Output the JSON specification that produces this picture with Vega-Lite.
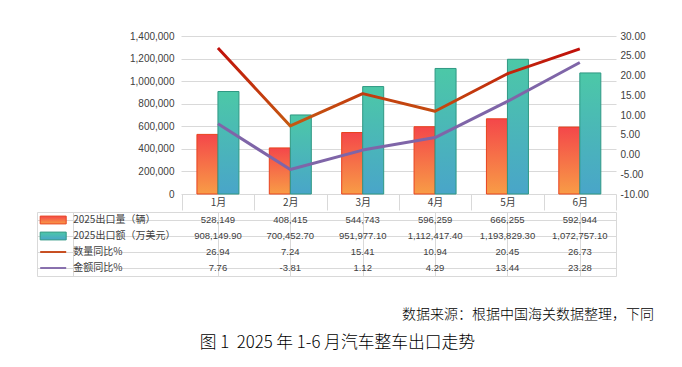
{
  "$schema": "https://vega.github.io/schema/vega-lite/v6.json",
  "background": "white",
  "padding": {"left": 36, "top": 31, "right": 5, "bottom": 5},
  "datasets": {
    "months": [
      {"month": "1月", "qty": 528149, "amt": 908149.90, "qtyPct": 26.94, "amtPct": 7.76},
      {"month": "2月", "qty": 408415, "amt": 700452.70, "qtyPct": 7.24, "amtPct": -3.81},
      {"month": "3月", "qty": 544743, "amt": 951977.10, "qtyPct": 15.41, "amtPct": 1.12},
      {"month": "4月", "qty": 596259, "amt": 1112417.40, "qtyPct": 10.94, "amtPct": 4.29},
      {"month": "5月", "qty": 666255, "amt": 1193829.30, "qtyPct": 20.45, "amtPct": 13.44},
      {"month": "6月", "qty": 592944, "amt": 1072757.10, "qtyPct": 26.73, "amtPct": 23.28}
    ],
    "legendRows": [
      {"row": "qty", "label": "2025出口量（辆）"},
      {"row": "amt", "label": "2025出口额（万美元）"},
      {"row": "qtyPct", "label": "数量同比%"},
      {"row": "amtPct", "label": "金额同比%"}
    ]
  },
  "spacing": 0,
  "resolve": {"scale": {"x": "independent", "y": "independent"}},
  "title": {
    "text": "图 1\u00a0\u00a02025 年 1-6 月汽车整车出口走势",
    "orient": "bottom",
    "anchor": "middle",
    "offset": 12,
    "dx": -8,
    "font": "Noto Sans CJK SC",
    "fontSize": 16.8,
    "fontWeight": 300,
    "color": "#000000"
  },
  "vconcat": [
    {
      "width": 579,
      "height": 158,
      "data": {"name": "months"},
      "encoding": {
        "x": {
          "field": "month",
          "type": "nominal",
          "scale": {"domain": ["L1", "L2", "1月", "2月", "3月", "4月", "5月", "6月"], "paddingInner": 0, "paddingOuter": 0},
          "axis": {
            "title": null,
            "values": ["1月", "2月", "3月", "4月", "5月", "6月"],
            "labelAngle": 0,
            "tickBand": "extent",
            "tickSize": 16,
            "tickColor": "#d9d9d9",
            "domain": false,
            "labelPadding": -13,
            "labelFont": "Noto Sans CJK SC",
            "labelFontSize": 10,
            "labelColor": "#404040"
          }
        }
      },
      "layer": [
        {
          "transform": [{"fold": ["qty", "amt"], "as": ["series", "val"]}],
          "encoding": {
            "xOffset": {"field": "series", "type": "nominal", "scale": {"domain": ["qty", "amt"], "paddingInner": 0, "paddingOuter": 0.723}},
            "y": {
              "field": "val",
              "type": "quantitative",
              "scale": {"domain": [0, 1400000], "nice": false},
              "axis": {
                "title": null,
                "orient": "left",
                "offset": -579,
                "values": [0, 200000, 400000, 600000, 800000, 1000000, 1200000, 1400000],
                "format": ",.0f",
                "labelOverlap": false,
                "domain": false,
                "grid": false,
                "ticks": true,
                "tickSize": 435,
                "tickColor": "#d9d9d9",
                "tickWidth": 1,
                "labelPadding": 7,
                "minExtent": 0,
                "labelFont": "Liberation Sans",
                "labelFontSize": 10,
                "labelColor": "#404040"
              }
            }
          },
          "layer": [
            {
              "transform": [{"filter": "datum.series === 'qty'"}],
              "mark": {
                "type": "bar",
                "stroke": "#e8421e",
                "strokeWidth": 1,
                "fill": {"gradient": "linear", "x1": 0, "y1": 0, "x2": 0, "y2": 1,
                  "stops": [{"offset": 0, "color": "#f4474a"}, {"offset": 1, "color": "#f89c46"}]}
              }
            },
            {
              "transform": [{"filter": "datum.series === 'amt'"}],
              "mark": {
                "type": "bar",
                "stroke": "#2f9883",
                "strokeWidth": 1,
                "fill": {"gradient": "linear", "x1": 0, "y1": 0, "x2": 0, "y2": 1,
                  "stops": [{"offset": 0, "color": "#4cc8a7"}, {"offset": 1, "color": "#49a5c9"}]}
              }
            }
          ]
        },
        {
          "encoding": {
            "y": {
              "type": "quantitative",
              "scale": {"domain": [-10, 30], "nice": false},
              "axis": {
                "orient": "right",
                "title": null,
                "values": [-10, -5, 0, 5, 10, 15, 20, 25, 30],
                "labelExpr": "replace(format(datum.value, '.2f'), '\u2212', '-')",
                "labelOverlap": false,
                "domain": false,
                "ticks": false,
                "grid": false,
                "labelPadding": 4,
                "labelFont": "Liberation Sans",
                "labelFontSize": 10,
                "labelColor": "#404040"
              }
            }
          },
          "layer": [
            {
              "mark": {
                "type": "line",
                "strokeWidth": 3,
                "strokeJoin": "round",
                "stroke": {"gradient": "linear", "x1": 0, "y1": 0, "x2": 0, "y2": 1,
                  "stops": [{"offset": 0, "color": "#c00f0a"}, {"offset": 1, "color": "#c55a11"}]}
              },
              "encoding": {"y": {"field": "qtyPct", "type": "quantitative"}}
            },
            {
              "mark": {"type": "line", "strokeWidth": 3, "strokeJoin": "round", "stroke": "#7f65a8"},
              "encoding": {"y": {"field": "amtPct", "type": "quantitative"}}
            }
          ]
        }
      ],
      "resolve": {"scale": {"y": "independent"}}
    },
    {
      "width": 579,
      "height": 64,
      "view": {"stroke": "#d9d9d9"},
      "title": {
        "text": "数据来源：根据中国海关数据整理，下同",
        "orient": "bottom",
        "anchor": "end",
        "offset": 32,
        "dx": 38,
        "font": "Noto Sans CJK SC",
        "fontSize": 14,
        "fontWeight": 300,
        "color": "#000000"
      },
      "layer": [
        {
          "data": {"name": "legendRows"},
          "mark": {"type": "text", "align": "left", "baseline": "middle", "font": "Noto Sans CJK SC", "fontSize": 10, "color": "#404040"},
          "encoding": {
            "x": {
              "datum": "L1",
              "type": "nominal",
              "scale": {"domain": ["L1", "L2", "1月", "2月", "3月", "4月", "5月", "6月"], "paddingInner": 0, "paddingOuter": 0},
              "axis": {
                "values": ["L1", "1月", "2月", "3月", "4月", "5月", "6月"],
                "bandPosition": 0,
                "grid": true,
                "gridColor": "#d9d9d9",
                "labels": false,
                "ticks": false,
                "domain": false,
                "title": null,
                "minExtent": 0
              }
            },
            "y": {
              "field": "row",
              "type": "nominal",
              "scale": {"domain": ["qty", "amt", "qtyPct", "amtPct"], "paddingInner": 0, "paddingOuter": 0},
              "axis": {
                "bandPosition": 0,
                "grid": true,
                "gridColor": "#d9d9d9",
                "labels": false,
                "ticks": false,
                "domain": false,
                "title": null,
                "minExtent": 0
              }
            },
            "text": {"field": "label", "type": "nominal"}
          }
        },
        {
          "data": {"name": "legendRows"},
          "transform": [{"filter": "datum.row === 'qty'"}],
          "mark": {
            "type": "point", "filled": true, "opacity": 1, "size": 676, "xOffset": -20,
            "shape": "M-1,-0.3H1V0.3H-1Z",
            "stroke": "#e8421e", "strokeWidth": 1,
            "fill": {"gradient": "linear", "x1": 0, "y1": 0, "x2": 0, "y2": 1,
              "stops": [{"offset": 0, "color": "#f4474a"}, {"offset": 1, "color": "#f89c46"}]}
          },
          "encoding": {
            "x": {"datum": "L1", "type": "nominal"},
            "y": {"field": "row", "type": "nominal"}
          }
        },
        {
          "data": {"name": "legendRows"},
          "transform": [{"filter": "datum.row === 'amt'"}],
          "mark": {
            "type": "point", "filled": true, "opacity": 1, "size": 676, "xOffset": -20,
            "shape": "M-1,-0.3H1V0.3H-1Z",
            "stroke": "#2f9883", "strokeWidth": 1,
            "fill": {"gradient": "linear", "x1": 0, "y1": 0, "x2": 0, "y2": 1,
              "stops": [{"offset": 0, "color": "#4cc8a7"}, {"offset": 1, "color": "#49a5c9"}]}
          },
          "encoding": {
            "x": {"datum": "L1", "type": "nominal"},
            "y": {"field": "row", "type": "nominal"}
          }
        },
        {
          "data": {"name": "legendRows"},
          "transform": [{"filter": "datum.row === 'qtyPct'"}],
          "mark": {"type": "point", "filled": true, "opacity": 1, "size": 676, "xOffset": -20, "shape": "M-1,-0.07H1V0.07H-1Z", "fill": "#c4400f"},
          "encoding": {
            "x": {"datum": "L1", "type": "nominal"},
            "y": {"field": "row", "type": "nominal"}
          }
        },
        {
          "data": {"name": "legendRows"},
          "transform": [{"filter": "datum.row === 'amtPct'"}],
          "mark": {"type": "point", "filled": true, "opacity": 1, "size": 676, "xOffset": -20, "shape": "M-1,-0.07H1V0.07H-1Z", "fill": "#7f65a8"},
          "encoding": {
            "x": {"datum": "L1", "type": "nominal"},
            "y": {"field": "row", "type": "nominal"}
          }
        },
        {
          "data": {"name": "months"},
          "mark": {"type": "text", "baseline": "middle", "font": "Liberation Sans", "fontSize": 9.5, "color": "#404040"},
          "encoding": {
            "x": {"field": "month", "type": "nominal"},
            "y": {"datum": "qty", "type": "nominal"},
            "text": {"field": "qty", "type": "quantitative", "format": ","}
          }
        },
        {
          "data": {"name": "months"},
          "mark": {"type": "text", "baseline": "middle", "font": "Liberation Sans", "fontSize": 9.5, "color": "#404040"},
          "encoding": {
            "x": {"field": "month", "type": "nominal"},
            "y": {"datum": "amt", "type": "nominal"},
            "text": {"field": "amt", "type": "quantitative", "format": ",.2f"}
          }
        },
        {
          "data": {"name": "months"},
          "mark": {"type": "text", "baseline": "middle", "font": "Liberation Sans", "fontSize": 9.5, "color": "#404040"},
          "encoding": {
            "x": {"field": "month", "type": "nominal"},
            "y": {"datum": "qtyPct", "type": "nominal"},
            "text": {"field": "qtyPct", "type": "nominal"}
          }
        },
        {
          "data": {"name": "months"},
          "mark": {"type": "text", "baseline": "middle", "font": "Liberation Sans", "fontSize": 9.5, "color": "#404040"},
          "encoding": {
            "x": {"field": "month", "type": "nominal"},
            "y": {"datum": "amtPct", "type": "nominal"},
            "text": {"field": "amtPct", "type": "nominal"}
          }
        }
      ]
    }
  ],
  "config": {
    "view": {"stroke": null},
    "font": "Noto Sans CJK SC"
  }
}
